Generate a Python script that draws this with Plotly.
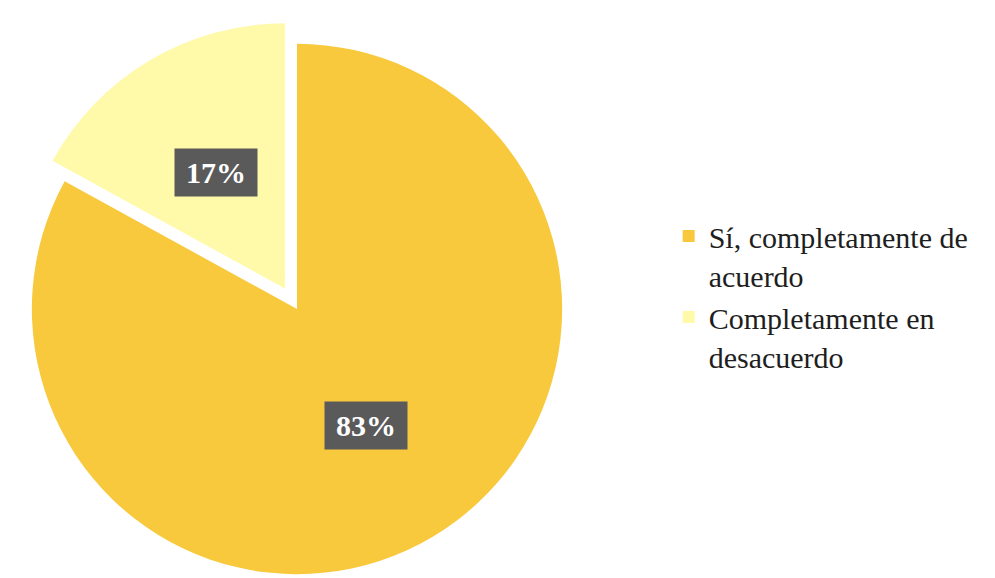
import math
import plotly.graph_objects as go

# ---- data ----
labels = ["Sí, completamente de<br>acuerdo", "Completamente en<br>desacuerdo"]
values = [83, 17]
pct_labels = ["83%", "17%"]
colors = ["#F8C93C", "#FFF9AA"]
pulls = [0, 0.09]

W, H = 995, 590
M_T = 12
plot_w, plot_h = W, H - M_T
dom_x = [0.0, 578 / 995]

fig = go.Figure(
    go.Pie(
        labels=labels,
        values=values,
        sort=False,
        direction="clockwise",
        rotation=0,
        pull=pulls,
        marker=dict(colors=colors, line=dict(width=0)),
        textinfo="none",
        hoverinfo="label+percent",
        domain=dict(x=dom_x, y=[0, 1]),
    )
)

# percentage boxes placed along each slice's bisector (derived from the values)
cx = plot_w * (dom_x[0] + dom_x[1]) / 2
cy = plot_h / 2
r = min(plot_w * (dom_x[1] - dom_x[0]), plot_h) / (2 + 2 * max(pulls))
total = sum(values)
cum = 0
annotations = []
for v, lab, p in zip(values, pct_labels, pulls):
    theta = 2 * math.pi * (cum + v / 2) / total
    cum += v
    rad = 0.51 * r + p * r
    px = cx + rad * math.sin(theta)
    py = cy - rad * math.cos(theta)
    annotations.append(
        dict(
            x=px / plot_w, y=1 - py / plot_h, xref="paper", yref="paper",
            text="<b>" + lab + "</b>", showarrow=False,
            font=dict(family="Liberation Serif", size=30, color="white"),
            bgcolor="#5a5a5a", width=80, height=45,
            xanchor="center", yanchor="middle",
        )
    )

fig.update_layout(
    width=W, height=H,
    margin=dict(l=0, r=0, t=M_T, b=0),
    paper_bgcolor="white",
    plot_bgcolor="white",
    annotations=annotations,
    legend=dict(
        x=0.664, y=0.5225, xanchor="left", yanchor="middle",
        valign="top",
        font=dict(family="Liberation Serif", size=30, color="#1e1e1e"),
        bgcolor="rgba(0,0,0,0)",
    ),
    showlegend=True,
)

fig.write_html("out.html")
